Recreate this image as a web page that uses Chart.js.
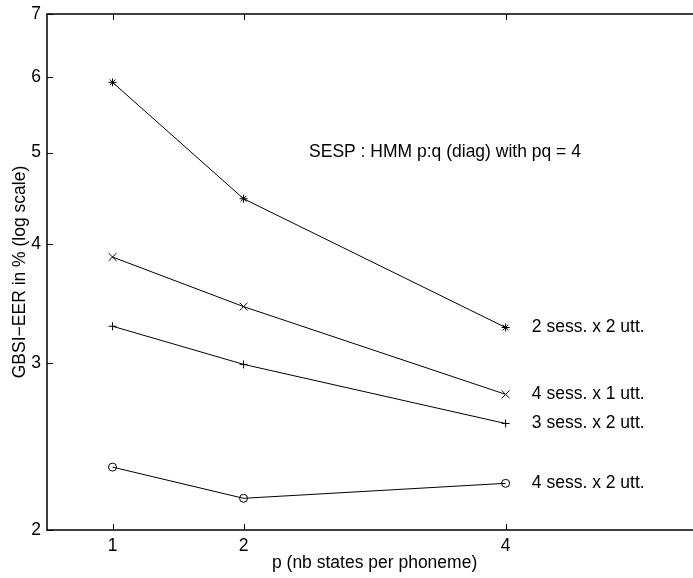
<!DOCTYPE html>
<html><head><meta charset="utf-8">
<script src="https://cdn.jsdelivr.net/npm/chart.js@4/dist/chart.umd.min.js"></script>
<style>
html,body{margin:0;padding:0;background:#fff;overflow:hidden;width:693px;height:578px}
#wrap{width:693px;height:578px;position:relative}
</style></head>
<body><div id="wrap"><canvas id="c"></canvas></div>
<script>
// ---- data ----
const xValues = [1, 2, 4];
const xTicks = [1, 2, 4];
const yTicks = [2, 3, 4, 5, 6, 7];
const seriesNames = ['2 sess. x 2 utt.', '4 sess. x 1 utt.', '3 sess. x 2 utt.', '4 sess. x 2 utt.'];
const s2x2 = [5.93, 4.47, 3.27];
const s4x1 = [3.88, 3.44, 2.78];
const s3x2 = [3.28, 2.99, 2.59];
const s4x2 = [2.33, 2.16, 2.24];
const seriesValues = [s2x2, s4x1, s3x2, s4x2];
const markers = ['star', 'crossRot', 'cross', 'circle'];
const markerSizes = [4, 5.5, 4, 4];
const annotationText = 'SESP : HMM p:q (diag) with pq = 4';
const annotationAt = [2.5, 5.0];
const seriesLabelX = 4.2;
const xTitle = 'p (nb states per phoneme)';
const xTitleAt = 3;          // centre of the full (cropped) x range 0.5..5.5
const yTitle = 'GBSI\u2212EER in % (log scale)';

const FONT = "'Liberation Sans', Arial, Helvetica, sans-serif";
const FS = 17.5;

const datasets = seriesValues.map((vals, i) => ({
  label: seriesNames[i],
  data: xValues.map((x, j) => ({x: x, y: vals[j]})),
  borderColor: '#000',
  backgroundColor: 'rgba(0,0,0,0)',
  borderWidth: 1,
  tension: 0,
  pointStyle: markers[i],
  pointRadius: markerSizes[i],
  pointBorderColor: '#000',
  pointBackgroundColor: 'rgba(0,0,0,0)',
  pointBorderWidth: 1,
  fill: false
}));

const framePlugin = {
  id: 'frame',
  afterDraw(chart) {
    const {ctx, chartArea: a, scales: {x, y}} = chart;
    ctx.save();
    ctx.strokeStyle = '#000';
    ctx.lineWidth = 1.5;
    ctx.beginPath();
    ctx.moveTo(a.right + 2, a.top); ctx.lineTo(a.left, a.top);
    ctx.lineTo(a.left, a.bottom); ctx.lineTo(a.right + 2, a.bottom);
    ctx.stroke();
    ctx.lineWidth = 1;
    const TL = 6;
    ctx.beginPath();
    xTicks.forEach(v => {
      const px = Math.round(x.getPixelForValue(v)) + 0.5;
      ctx.moveTo(px, a.bottom); ctx.lineTo(px, a.bottom - TL);
      ctx.moveTo(px, a.top); ctx.lineTo(px, a.top + TL);
    });
    yTicks.forEach(v => {
      const py = Math.round(y.getPixelForValue(v)) + 0.5;
      ctx.moveTo(a.left, py); ctx.lineTo(a.left + TL, py);
    });
    ctx.stroke();
    // text annotations
    ctx.fillStyle = '#000';
    ctx.font = FS + 'px ' + FONT;
    ctx.textAlign = 'left';
    ctx.textBaseline = 'middle';
    ctx.fillText(annotationText, x.getPixelForValue(annotationAt[0]), y.getPixelForValue(annotationAt[1]));
    seriesValues.forEach((vals, i) => {
      ctx.fillText(seriesNames[i], x.getPixelForValue(seriesLabelX), y.getPixelForValue(vals[vals.length - 1]));
    });
    ctx.textAlign = 'center';
    ctx.fillText(xTitle, x.getPixelForValue(xTitleAt), 563);
    ctx.restore();
  }
};

new Chart(document.getElementById('c'), {
  type: 'line',
  data: {datasets},
  options: {
    responsive: true,
    maintainAspectRatio: false,
    animation: false,
    events: [],
    layout: {autoPadding: false, padding: {top: 14, right: 0, left: 0, bottom: 0}},
    plugins: {legend: {display: false}, tooltip: {enabled: false}},
    scales: {
      x: {
        type: 'linear', min: 0.5, max: 5.43,
        afterBuildTicks: s => { s.ticks = xTicks.map(v => ({value: v})); },
        afterFit: s => { s.height = 48; s.paddingRight = 0; s.paddingLeft = 0; },
        grid: {display: false, drawTicks: false},
        border: {display: false},
        ticks: {color: '#000', font: {family: FONT, size: FS}, padding: 6, maxRotation: 0, autoSkip: false,
                callback: v => String(v)}
      },
      y: {
        type: 'logarithmic', min: 2, max: 7,
        afterBuildTicks: s => { s.ticks = yTicks.map(v => ({value: v})); },
        afterFit: s => { s.width = 47; s.paddingTop = 0; s.paddingBottom = 0; },
        grid: {display: false, drawTicks: false},
        border: {display: false},
        ticks: {color: '#000', font: {family: FONT, size: FS}, padding: 6, autoSkip: false,
                callback: v => String(v)},
        title: {display: true, text: yTitle, color: '#000', font: {family: FONT, size: FS}, padding: {top: 10, bottom: 0}}
      }
    }
  },
  plugins: [framePlugin]
});
</script>
</body></html>
